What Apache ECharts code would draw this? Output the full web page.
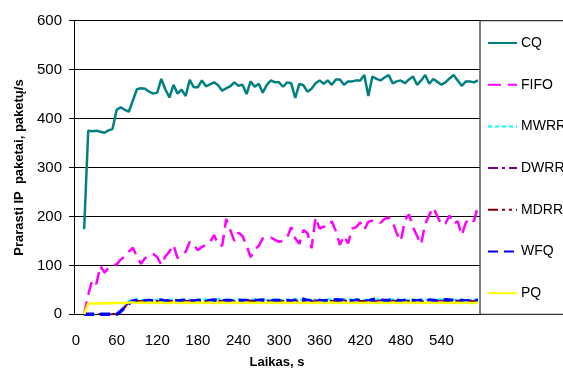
<!DOCTYPE html>
<html><head><meta charset="utf-8">
<script src="https://cdn.jsdelivr.net/npm/echarts@6/dist/echarts.min.js"></script>
<style>html,body{margin:0;padding:0;background:#fff}#c{width:563px;height:371px}</style>
</head><body><div id="c"></div>
<script>
var categories = [0,6,12,18,24,30,36,42,48,54,60,66,72,78,84,90,96,102,108,114,
120,126,132,138,144,150,156,162,168,174,180,186,192,198,204,210,216,222,228,234,
240,246,252,258,264,270,276,282,288,294,300,306,312,318,324,330,336,342,348,354,
360,366,372,378,384,390,396,402,408,414,420,426,432,438,444,450,456,462,468,474,
480,486,492,498,504,510,516,522,528,534,540,546,552,558,564,570,576,582,588,594];

var cq = [null,null,174,375,374,375,373,371,376,379,
418,423,418,414,437,460,462,461,455,451,
453,481,460,443,469,451,459,446,479,464,
464,478,466,470,474,468,457,462,466,474,
467,469,450,476,465,471,453,469,478,474,
474,465,474,472,442,471,468,455,461,472,
478,471,478,469,480,480,469,476,476,478,
478,489,446,486,481,478,484,489,472,476,
478,472,480,486,469,478,489,471,481,475,
469,474,482,489,478,467,476,476,474,478];

var fifo = [null,null,0,40,70,62,99,85,95,100,
102,112,118,128,136,118,103,115,119,123,
117,101,118,128,142,115,120,128,148,142,
131,138,142,148,162,142,140,195,172,150,
167,160,140,117,132,140,155,156,157,152,
148,150,157,178,155,144,172,166,135,198,
175,179,179,190,170,142,160,145,175,178,
188,173,189,191,192,187,195,198,188,165,
150,192,204,178,160,143,185,203,218,200,
183,186,202,185,190,162,187,196,190,222];

var mwrr = [null,null,0,0,0,0,0,0,0,0,
0,8,18,28,30,31,29,31,30,29,
30,31,29,30,31,29,31,30,30,29,
30,30,31,29,30,31,31,30,29,30,
31,30,29,31,30,31,30,29,30,31,
30,29,30,31,32,30,29,31,30,30,
29,30,31,30,29,30,31,30,31,31,
30,29,32,30,31,30,29,30,31,30,
30,31,29,30,30,31,30,29,30,30,
31,30,29,30,31,30,30,29,30,30];

var dwrr = [null,null,0,0,0,0,0,0,0,0,
0,5,15,24,27,28,27,28,27,28,
27,28,27,27,28,27,28,27,28,27,
28,28,27,28,27,28,27,28,28,27,
28,27,28,28,27,28,27,28,27,28,
28,27,28,27,28,28,27,28,27,28,
27,28,28,27,28,27,28,28,27,28,
28,27,28,28,27,28,27,28,28,27,
28,27,28,27,28,28,27,28,27,28,
27,28,28,27,28,27,28,28,27,28];

var mdrr = [null,null,0,0,0,0,0,0,0,0,
0,4,14,23,26,27,27,26,27,27,
26,27,27,26,27,27,26,27,27,26,
27,26,27,27,26,27,27,26,27,26,
27,27,26,27,26,27,27,26,27,27,
26,27,26,27,27,26,27,27,26,27,
27,26,27,27,26,27,26,27,27,26,
27,27,26,27,27,26,27,26,27,27,
26,27,27,26,27,27,26,27,27,26,
27,26,27,27,26,27,27,26,27,26];

var wfq = [null,null,0,0,0,0,0,0,0,0,
0,6,14,22,27,28,28,27,28,27,
28,29,27,28,28,27,28,29,28,27,
28,28,27,28,29,28,27,28,28,27,
28,28,28,27,28,28,29,28,27,28,
28,27,28,27,28,29,31,28,27,28,
28,27,28,28,30,29,28,28,27,29,
28,28,27,30,31,29,28,28,32,28,
27,28,30,28,27,28,28,29,28,27,
28,30,29,28,27,28,27,28,28,28];

var pq = [null,null,0,22,22,22,22,23,22,23,
23,23,23,24,24,23,24,23,24,23,
23,24,23,23,24,23,23,24,23,23,
24,23,23,24,23,23,24,23,23,24,
23,23,24,23,23,24,23,23,24,23,
23,24,23,23,24,23,23,24,23,23,
24,23,23,24,23,23,24,23,23,24,
23,23,24,23,23,24,23,23,24,23,
23,24,23,23,24,23,23,24,23,23,
24,23,23,24,23,23,24,23,23,24];

var yTicks = [0,100,200,300,400,500,600];

function mk(name, data, color, width, type) {
  return {name:name, type:'line', data:data, symbol:'none', showSymbol:false,
    connectNulls:false, animation:false,
    lineStyle:{color:color, width:width, type:type},
    itemStyle:{color:color}};
}

var chart = echarts.init(document.getElementById('c'), null, {renderer:'canvas'});
chart.setOption({
  backgroundColor:'#fff',
  animation:false,
  textStyle:{fontFamily:'Liberation Sans, Arial, sans-serif'},
  grid:{left:74, right:83, top:20.7, bottom:56.7, containLabel:false, outerBoundsMode:'none'},
  graphic:[{type:'rect', shape:{x:480, y:20.7, width:100, height:293.6},
    style:{fill:'none', stroke:'#000', lineWidth:1}, z:1}],
  legend:{
    orient:'vertical', left:487, top:36, padding:0, itemWidth:29, itemHeight:14, itemGap:27.7,
    itemStyle:{opacity:0},
    textStyle:{fontSize:14, color:'#000', fontFamily:'Liberation Sans, Arial, sans-serif', padding:[0,0,0,-1]},
    data:['CQ','FIFO','MWRR','DWRR','MDRR','WFQ','PQ']
  },
  xAxis:{
    type:'category', data:categories, boundaryGap:true,
    name:'Laikas, s', nameLocation:'middle', nameGap:42,
    nameTextStyle:{fontWeight:'bold', fontSize:13, color:'#000'},
    axisLine:{lineStyle:{color:'#000', width:1}},
    axisTick:{show:false},
    axisLabel:{interval:9, fontSize:15, color:'#000', margin:19},
    splitLine:{show:false}
  },
  yAxis:{
    type:'value', min:yTicks[0], max:yTicks[yTicks.length-1], interval:100,
    name:'Prarasti IP  paketai, paketų/s', nameLocation:'middle', nameGap:48,
    nameTextStyle:{fontWeight:'bold', fontSize:13, color:'#000'},
    axisLine:{show:true, lineStyle:{color:'#000', width:1}},
    axisTick:{show:true, inside:false, length:5, lineStyle:{color:'#000'}},
    axisLabel:{fontSize:15, color:'#000', margin:12},
    splitLine:{show:true, lineStyle:{color:'#000', width:1}}
  },
  series:[
    mk('CQ', cq, '#008080', 2.5, 'solid'),
    mk('FIFO', fifo, '#FF00FF', 2.5, [13,7]),
    mk('MWRR', mwrr, '#00FFFF', 2, [4,3]),
    mk('DWRR', dwrr, '#800080', 2, [10,4,3,4]),
    mk('MDRR', mdrr, '#800000', 2, [10,4,3,4,3,4]),
    mk('WFQ', wfq, '#0000FF', 3.5, [10,6]),
    mk('PQ', pq, '#FFFF00', 2.5, 'solid')
  ]
});
</script></body></html>
